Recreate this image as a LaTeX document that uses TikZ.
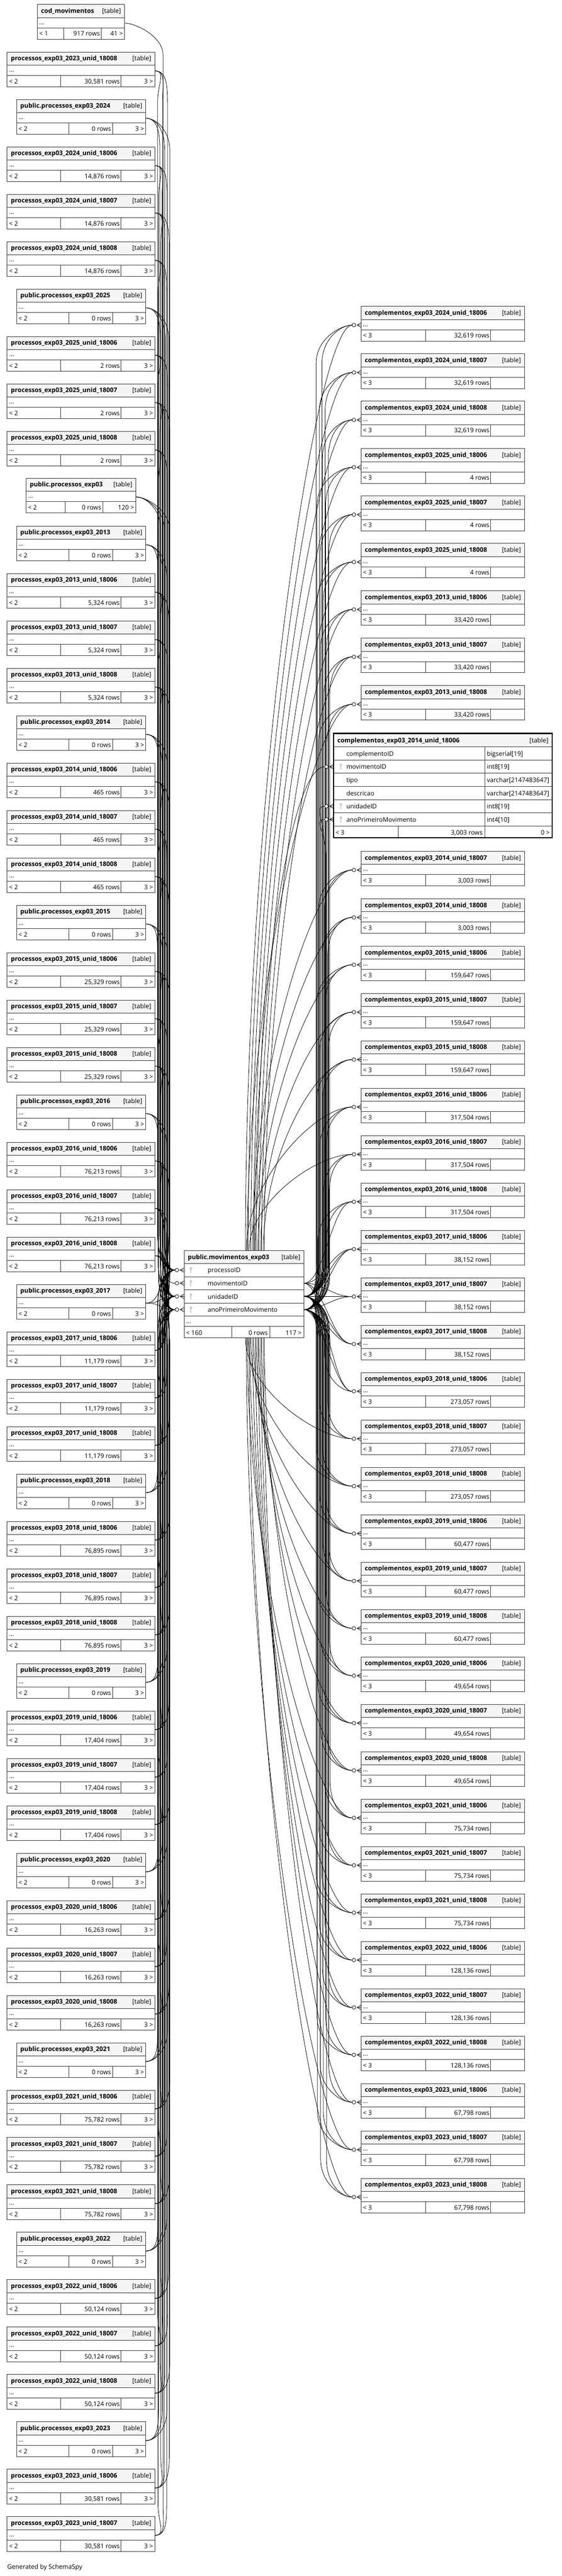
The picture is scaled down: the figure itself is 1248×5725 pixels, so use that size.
\documentclass[tikz,border=0pt]{standalone}
\usepackage{fontspec}
\setmainfont{Open Sans}
\usetikzlibrary{calc}

% footer cells of a table (uses \tbN, \tbX, \tbY, \tbC, \tbR)
\newcommand\dbfoot[3]{%
  \node[txt, anchor=base west] (\tbN-f1) at (\tbX+4,\tbY+70) {#1};
  \node[txt, anchor=base east] (\tbN-f2) at (\tbC-3,\tbY+70) {#2};
  \node[txt, anchor=base east] (\tbN-f3) at (\tbR-4,\tbY+70) {#3};}

% collapsed table: name, x left, x right, top, cell 1, cell 2, title, {footers}
\newcommand\dbtable[8]{%
  \def\tbN{#1}\def\tbX{#2}\def\tbR{#3}\def\tbY{#4}\def\tbC{#6}%
  \draw[hdr] (#2,#4) rectangle (#3,#4+29);
  \draw[tbl] (#2,#4+29) rectangle (#3,#4+52);
  \draw[tbl] (#2,#4+52) rectangle (#3,#4+77) (#5,#4+52) -- (#5,#4+77) (#6,#4+52) -- (#6,#4+77);
  \node[ttl, anchor=base west] (#1-t) at (#2+8,#4+19) {#7};
  \node[txt, anchor=base east] (#1-k) at (#3-8,#4+19) {[table]};
  \node[txt, anchor=base west] (#1-d) at (#2+4,#4+44) {...};
  \dbfoot#8
  \coordinate (#1-e) at (#3,#4+41.5);
  \coordinate (#1-w) at (#2-20,#4+41.5);}

% connector through a vertical trunk: from, from y, to, to y, trunk x
\newcommand\erlink[5]{%
  \pgfmathsetmacro\lkD{#4-#2}%
  \pgfmathtruncatemacro\lkN{abs(\lkD)<200 ? 1 : 0}%
  \ifnum\lkN=1
    \draw[fklink] (#1) .. controls +(40,0) and +(-40,0) .. (#3);
  \else
    \pgfmathsetmacro\lkS{\lkD>0 ? 1 : -1}%
    \pgfmathsetmacro\lkA{#2+70*(\lkS)}%
    \pgfmathsetmacro\lkB{#4-85*(\lkS)}%
    \pgfmathsetmacro\lkP{-40*(\lkS)}%
    \pgfmathsetmacro\lkQ{55*(\lkS)}%
    \draw[fklink] (#1) .. controls +(25,0) and +(0,\lkP) .. (#5,\lkA) -- (#5,\lkB) .. controls +(0,\lkQ) and +(-25,0) .. (#3);
  \fi}

% movimentoID connector leaving the top or bottom of the central table
\newcommand\sweep[3]{%
  \pgfmathsetmacro\lkD{#2-2852}%
  \pgfmathtruncatemacro\lkN{abs(\lkD)<250 ? 1 : 0}%
  \ifnum\lkN=1
    \draw[fklink] (mv-mov-e) .. controls +(45,0) and +(-45,0) .. (#1);
  \else\ifdim\lkD pt<0pt
    \pgfmathsetmacro\lkP{0.5*(#2-2779)}%
    \draw[fklink] ([xshift=#3]mvtop) .. controls +(0,\lkP) and +(-80,0) .. (#1);
  \else
    \pgfmathsetmacro\lkP{0.5*(#2-2973)}%
    \draw[fklink] ([xshift=#3]mvbot) .. controls +(0,\lkP) and +(-80,0) .. (#1);
  \fi\fi}

\begin{document}
\begin{tikzpicture}[x=1pt, y=-1pt,
    tbl/.style={draw=black!80, line width=1.1pt, fill=white},
    hdr/.style={tbl, fill=gray!8},
    ttl/.style={font=\fontsize{14}{16}\selectfont\bfseries, inner sep=0pt},
    txt/.style={font=\fontsize{14}{16}\selectfont, inner sep=0pt},
    fklink/.style={line width=0.9pt, black},
    crow/.pic={\draw[fklink] (-9,0) -- (0,-5) (-9,0) -- (0,0) (-9,0) -- (0,5);
               \draw[fklink, fill=white] (-16,0) circle (4pt);},
    fk/.pic={\fill[gray!40] (0,-4) circle (3pt);
             \draw[gray!40, line width=2pt] (0,-2) -- (0,7);}]
    \useasboundingbox (0,0) rectangle (1248,5725);

    % Left column: parent tables
    \dbtable{cod}{83}{277}{10}{141}{225}{cod\_movimentos}{{< 1}{917 rows}{41 >}}
    \dbtable{L9}{58}{302}{1063}{145}{228}{public.processos\_exp03}{{< 2}{0 rows}{120 >}}
    \foreach \yr/\p/\rw in {2024/1/{14,876}, 2025/5/2, 2013/10/{5,324}, 2014/14/465,
        2015/18/{25,329}, 2016/22/{76,213}, 2017/26/{11,179}, 2018/30/{76,895},
        2019/34/{17,404}, 2020/38/{16,263}, 2021/42/{75,782}, 2022/46/{50,124}} {
        \pgfmathsetmacro\y{116+105.33*\p}
        \dbtable{L\p}{37}{324}{\y}{153}{250}{public.processos\_exp03\_\yr}{{< 2}{0 rows}{3 >}}
        \foreach \k/\un in {0/18006, 1/18007, 2/18008} {
            \pgfmathtruncatemacro\i{\p+1+\k}
            \pgfmathsetmacro\y{116+105.33*\i}
            \dbtable{L\i}{16}{344}{\y}{135}{269}{processos\_exp03\_\yr\_unid\_\un}{{< 2}{\rw\ rows}{3 >}}
        }
    }
    \dbtable{L50}{37}{324}{5382.5}{153}{250}{public.processos\_exp03\_2023}{{< 2}{0 rows}{3 >}}
    \foreach \i/\un in {0/18008, 51/18006, 52/18007} {
        \pgfmathsetmacro\y{116+105.33*\i}
        \dbtable{L\i}{16}{344}{\y}{135}{269}{processos\_exp03\_2023\_unid\_\un}{{< 2}{30,581 rows}{3 >}}
    }

    % Right column: child tables
    \foreach \j/\yr/\rw in {0/2024/{32,619}, 3/2025/4, 6/2013/{33,420}, 12/2015/{159,647},
        15/2016/{317,504}, 18/2017/{38,152}, 21/2018/{273,057}, 24/2019/{60,477},
        27/2020/{49,654}, 30/2021/{75,734}, 33/2022/{128,136}, 36/2023/{67,798}} {
        \foreach \k/\un in {0/18006, 1/18007, 2/18008} {
            \pgfmathtruncatemacro\i{\j+\k}
            \pgfmathsetmacro\y{\i<9 ? 681+105.33*\i : 1892+105.33*(\i-10)}
            \dbtable{R\i}{802}{1165}{\y}{945}{1090}{complementos\_exp03\_\yr\_unid\_\un}{{< 3}{\rw\ rows}{}}
        }
    }
    \foreach \i/\un in {10/18007, 11/18008} {
        \pgfmathsetmacro\y{1892+105.33*(\i-10)}
        \dbtable{R\i}{802}{1165}{\y}{945}{1090}{complementos\_exp03\_2014\_unid\_\un}{{< 3}{3,003 rows}{}}
    }

    % Expanded child table
    \draw[hdr] (741,1630) rectangle (1226,1660);
    \node[ttl, anchor=base west] (big-t) at (749,1650) {complementos\_exp03\_2014\_unid\_18006};
    \node[txt, anchor=base east] (big-k) at (1218,1650) {[table]};
    \foreach \k/\nm/\tp/\fk in {0/complementoID/bigserial[19]/0, 1/movimentoID/int8[19]/1,
        2/tipo/varchar[2147483647]/0, 3/descricao/varchar[2147483647]/0,
        4/unidadeID/int8[19]/1, 5/anoPrimeiroMovimento/int4[10]/1} {
        \pgfmathsetmacro\y{1660+29.3*\k}
        \draw[tbl] (741,\y) rectangle (1077,\y+29.3) (1077,\y) rectangle (1226,\y+29.3);
        \node[txt, anchor=base west] (big-n\k) at (769,\y+20) {\nm};
        \node[txt, anchor=base west] (big-c\k) at (1081,\y+20) {\tp};
        \ifnum\fk=1 \pic at (757,\y+14.6) {fk}; \fi
    }
    \draw[tbl] (741,1835.8) rectangle (1226,1862) (884,1835.8) -- (884,1862) (1077,1835.8) -- (1077,1862);
    \node[txt, anchor=base west] (big-f1) at (745,1856) {< 3};
    \node[txt, anchor=base east] (big-f2) at (1072,1856) {3,003 rows};
    \node[txt, anchor=base east] (big-f3) at (1221,1856) {0 >};
    \draw[line width=2.6pt] (741,1630) rectangle (1226,1862);
    \coordinate (B-mov) at (721,1704);
    \coordinate (B-unid) at (721,1791.9);
    \coordinate (B-ano) at (721,1821.2);

    % Central table
    \draw[hdr] (409,2779) rectangle (675,2808);
    \node[ttl, anchor=base west] (mv-t) at (417,2799) {public.movimentos\_exp03};
    \node[txt, anchor=base east] (mv-k) at (667,2799) {[table]};
    \foreach \k/\nm in {0/processoID, 1/movimentoID, 2/unidadeID, 3/anoPrimeiroMovimento} {
        \pgfmathsetmacro\y{2808+29.3*\k}
        \draw[tbl] (409,\y) rectangle (675,\y+29.3);
        \node[txt, anchor=base west] (mv-n\k) at (461,\y+20) {\nm};
        \pic at (424,\y+14.6) {fk};
    }
    \draw[tbl] (409,2925.2) rectangle (675,2948);
    \node[txt, anchor=base west] (mv-d) at (413,2941) {...};
    \draw[tbl] (409,2948) rectangle (675,2973) (515,2948) -- (515,2973) (599,2948) -- (599,2973);
    \node[txt, anchor=base west] (mv-f1) at (413,2967) {< 160};
    \node[txt, anchor=base east] (mv-f2) at (595,2967) {0 rows};
    \node[txt, anchor=base east] (mv-f3) at (670,2967) {117 >};
    \coordinate (mv-proc) at (389,2822.6);
    \coordinate (mv-mov) at (389,2851.9);
    \coordinate (mv-unid) at (389,2881.2);
    \coordinate (mv-ano) at (389,2910.5);
    \coordinate (mv-mov-e) at (675,2851.9);
    \coordinate (mv-unid-e) at (675,2881.2);
    \coordinate (mv-ano-e) at (675,2910.5);
    \coordinate (mvtop) at (545,2779);
    \coordinate (mvbot) at (545,2973);

    % Connectors from the parents
    \erlink{cod-e}{51.5}{mv-mov}{2851.9}{362}
    \foreach \i in {0,...,52} {
        \pgfmathsetmacro\yd{116+105.33*\i+41.5}
        \foreach \p/\yt/\q in {proc/2822.6/0, unid/2881.2/1, ano/2910.5/2} {
            \pgfmathsetmacro\xT{350+mod(5*\i+11*\q,30)}
            \erlink{L\i-e}{\yd}{mv-\p}{\yt}{\xT}
        }
    }
    \foreach \yt in {2822.6, 2851.9, 2881.2, 2910.5} {
        \pic at (409,\yt) {crow};
    }

    % Connectors to the children
    \foreach \j in {0,...,38} {
        \ifnum\j=9 \else
            \pgfmathsetmacro\yd{(\j<9 ? 681+105.33*\j : 1892+105.33*(\j-10))+41.5}
            \foreach \p/\yt/\q in {unid/2881.2/0, ano/2910.5/1} {
                \pgfmathsetmacro\xT{702+mod(7*\j+13*\q,32)}
                \erlink{mv-\p-e}{\yt}{R\j-w}{\yd}{\xT}
            }
            \pgfmathsetmacro\dx{mod(6*\j,44)}
            \sweep{R\j-w}{\yd}{\dx}
            \pic at (802,\yd) {crow};
        \fi
    }
    \erlink{mv-unid-e}{2881.2}{B-unid}{1791.9}{720}
    \erlink{mv-ano-e}{2910.5}{B-ano}{1821.2}{724}
    \sweep{B-mov}{1704}{20}
    \foreach \yt in {1704, 1791.9, 1821.2} {
        \pic at (741,\yt) {crow};
    }

    \node[txt, anchor=base west] (gen) at (16,5710) {Generated by SchemaSpy};
\end{tikzpicture}
\end{document}
